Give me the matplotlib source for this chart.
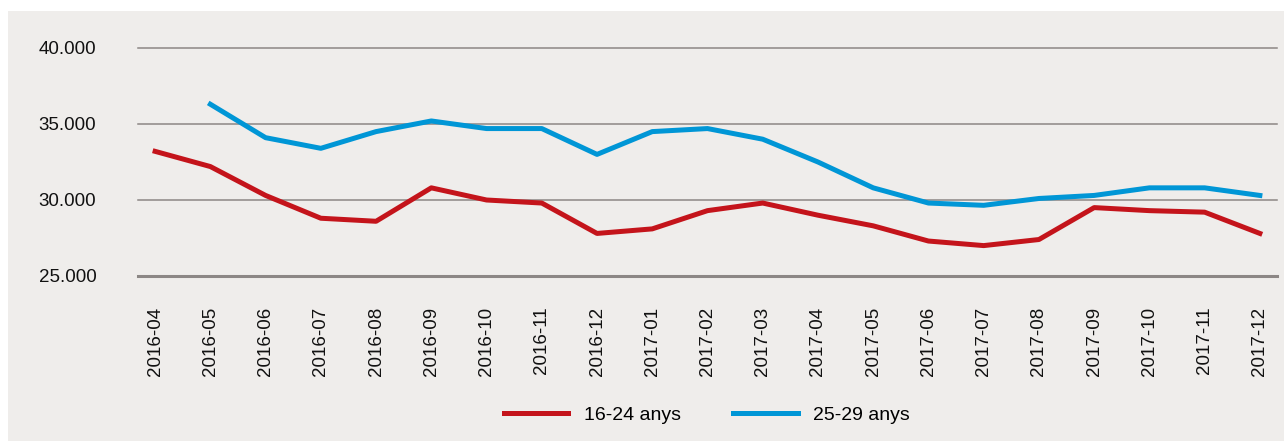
"""Youth figures 2016-04 .. 2017-12, two age bands, line chart on a grey panel."""

import matplotlib

matplotlib.use("Agg")
import matplotlib.pyplot as plt
import numpy as np
from matplotlib.patches import Rectangle
from matplotlib.ticker import FuncFormatter

# ---------------------------------------------------------------------------
# Style
# ---------------------------------------------------------------------------
PANEL = "#efedeb"
GRID = "#8c8785"
RED = "#c4141b"
BLUE = "#0096d6"
TEXT = "#111111"
FONT = ["Liberation Sans", "DejaVu Sans"]

# ---------------------------------------------------------------------------
# Data
# ---------------------------------------------------------------------------
MONTHS = [
    "2016-04", "2016-05", "2016-06", "2016-07", "2016-08", "2016-09",
    "2016-10", "2016-11", "2016-12", "2017-01", "2017-02", "2017-03",
    "2017-04", "2017-05", "2017-06", "2017-07", "2017-08", "2017-09",
    "2017-10", "2017-11", "2017-12",
]
AGE_16_24 = [
    33200, 32200, 30300, 28800, 28600, 30800, 30000, 29800, 27800, 28100,
    29300, 29800, 29000, 28300, 27300, 27000, 27400, 29500, 29300, 29200,
    27800,
]
AGE_25_29 = [
    np.nan, 36300, 34100, 33400, 34500, 35200, 34700, 34700, 33000, 34500,
    34700, 34000, 32500, 30800, 29800, 29650, 30100, 30300, 30800, 30800,
    30300,
]
Y_TICKS = [25000, 30000, 35000, 40000]
LABELS = ["16-24 anys", "25-29 anys"]

plt.rcParams["font.family"] = FONT

fig = plt.figure(figsize=(12.84, 4.41), dpi=100, facecolor="white")
fig.patches.append(
    Rectangle((8 / 1284, 0), 1, (441 - 11) / 441, transform=fig.transFigure,
              facecolor=PANEL, edgecolor="none", zorder=-10)
)

ax = fig.add_axes([138 / 1284, 1 - 276 / 441, (1277 - 138) / 1284, (276 - 48) / 441])
ax.set_facecolor("none")

x = np.arange(len(MONTHS))
for yv in Y_TICKS:
    ax.axhline(yv, color=GRID, linewidth=2.2 if yv == Y_TICKS[0] else 1.1,
               clip_on=False, zorder=1)

ax.plot(x, AGE_16_24, color=RED, linewidth=3.6, label=LABELS[0], zorder=3)
ax.plot(x, AGE_25_29, color=BLUE, linewidth=3.6, label=LABELS[1], zorder=3)

ax.set_xlim(-0.31, len(MONTHS) - 1 + 0.31)
ax.set_ylim(Y_TICKS[0], Y_TICKS[-1])
ax.set_xticks(x)
ax.set_xticklabels(MONTHS, rotation=90, fontsize=13.5, color=TEXT)
ax.set_yticks(Y_TICKS)
ax.yaxis.set_major_formatter(FuncFormatter(lambda v, _: f"{int(v):,}".replace(",", ".")))
ax.tick_params(axis="y", length=0, pad=30, labelsize=13.5, labelcolor=TEXT)
ax.tick_params(axis="x", length=0, pad=22)
for spine in ax.spines.values():
    spine.set_visible(False)

fig.legend(
    loc="center",
    bbox_to_anchor=(707 / 1284, 1 - 415 / 441),
    ncol=2,
    frameon=False,
    fontsize=14,
    handlelength=3.3,
    handletextpad=0.8,
    columnspacing=2.7,
)

fig.savefig("out.png", dpi=100, facecolor="white")
